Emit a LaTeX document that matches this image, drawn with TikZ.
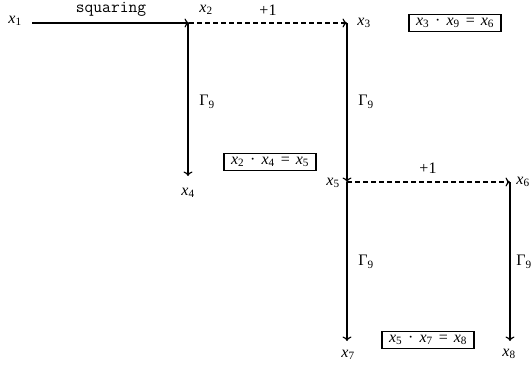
\documentclass[tikz,border=0pt]{standalone}
\usepackage{fontspec}
\setmainfont{Liberation Serif}
\usetikzlibrary{arrows.meta}
\newcommand\vx[1]{\textit{x}\textsubscript{#1}}
\newcommand\gam{Γ\textsubscript{9}}
\newcommand\eqn[3]{\vx{#1}\hspace{6pt}·\hspace{6pt}\vx{#2}\hspace{6pt}=\hspace{6pt}\vx{#3}}
\begin{document}
\begin{tikzpicture}[x=1pt,y=-1pt,
  every node/.style={font=\fontsize{16}{18}\selectfont, inner sep=1pt},
  arr/.style={-{To[length=4.5pt,width=9pt]}, line width=1.2pt},
  darr/.style={-{To[length=4.5pt,width=9pt]}, line width=1.2pt, dash pattern=on 4.5pt off 3.5pt},
  eqbox/.style={draw, line width=1.6pt, inner xsep=7pt, inner ysep=3.5pt}]
\useasboundingbox (0,0) rectangle (532,366);
\coordinate (n2) at (189,23);
\coordinate (n3) at (347,23);
\coordinate (n4) at (188,176);
\coordinate (n5) at (347,182);
\coordinate (n6) at (510,182);
\coordinate (n7) at (347,341);
\coordinate (n8) at (510,341);
\coordinate (s1) at (32,23);
\node (l1) at (15,21) {\vx1};
\node (l2) at (206,10) {\vx2};
\node (l3) at (364,23) {\vx3};
\node (l4) at (188,193) {\vx4};
\node (l5) at (333,183) {\vx5};
\node (l6) at (523,182) {\vx6};
\node (l7) at (348,355) {\vx7};
\node (l8) at (509,354) {\vx8};
\node[anchor=base, inner sep=0pt] (sq) at (111,13) {\fontsize{17}{19}\selectfont\ttfamily squaring};
\node (p1) at (268,10) {+1};
\node (p2) at (428,168) {+1};
\node (g1) at (207,102) {\gam};
\node (g2) at (366,102) {\gam};
\node (g3) at (366,262) {\gam};
\node (g4) at (524,262) {\gam};
\node[eqbox] (b1) at (455,23) {\eqn396};
\node[eqbox] (b2) at (270,162) {\eqn245};
\node[eqbox] (b3) at (428,340) {\eqn578};
\draw[arr] (s1) -- (n2);
\draw[darr] (n2) -- (n3);
\draw[arr] (n2 -| n4) -- (n4);
\draw[arr] (n3) -- (n5);
\draw[darr] (n5) -- (n6);
\draw[arr] (n5) -- (n7);
\draw[arr] (n6) -- (n8);
\end{tikzpicture}
\end{document}
